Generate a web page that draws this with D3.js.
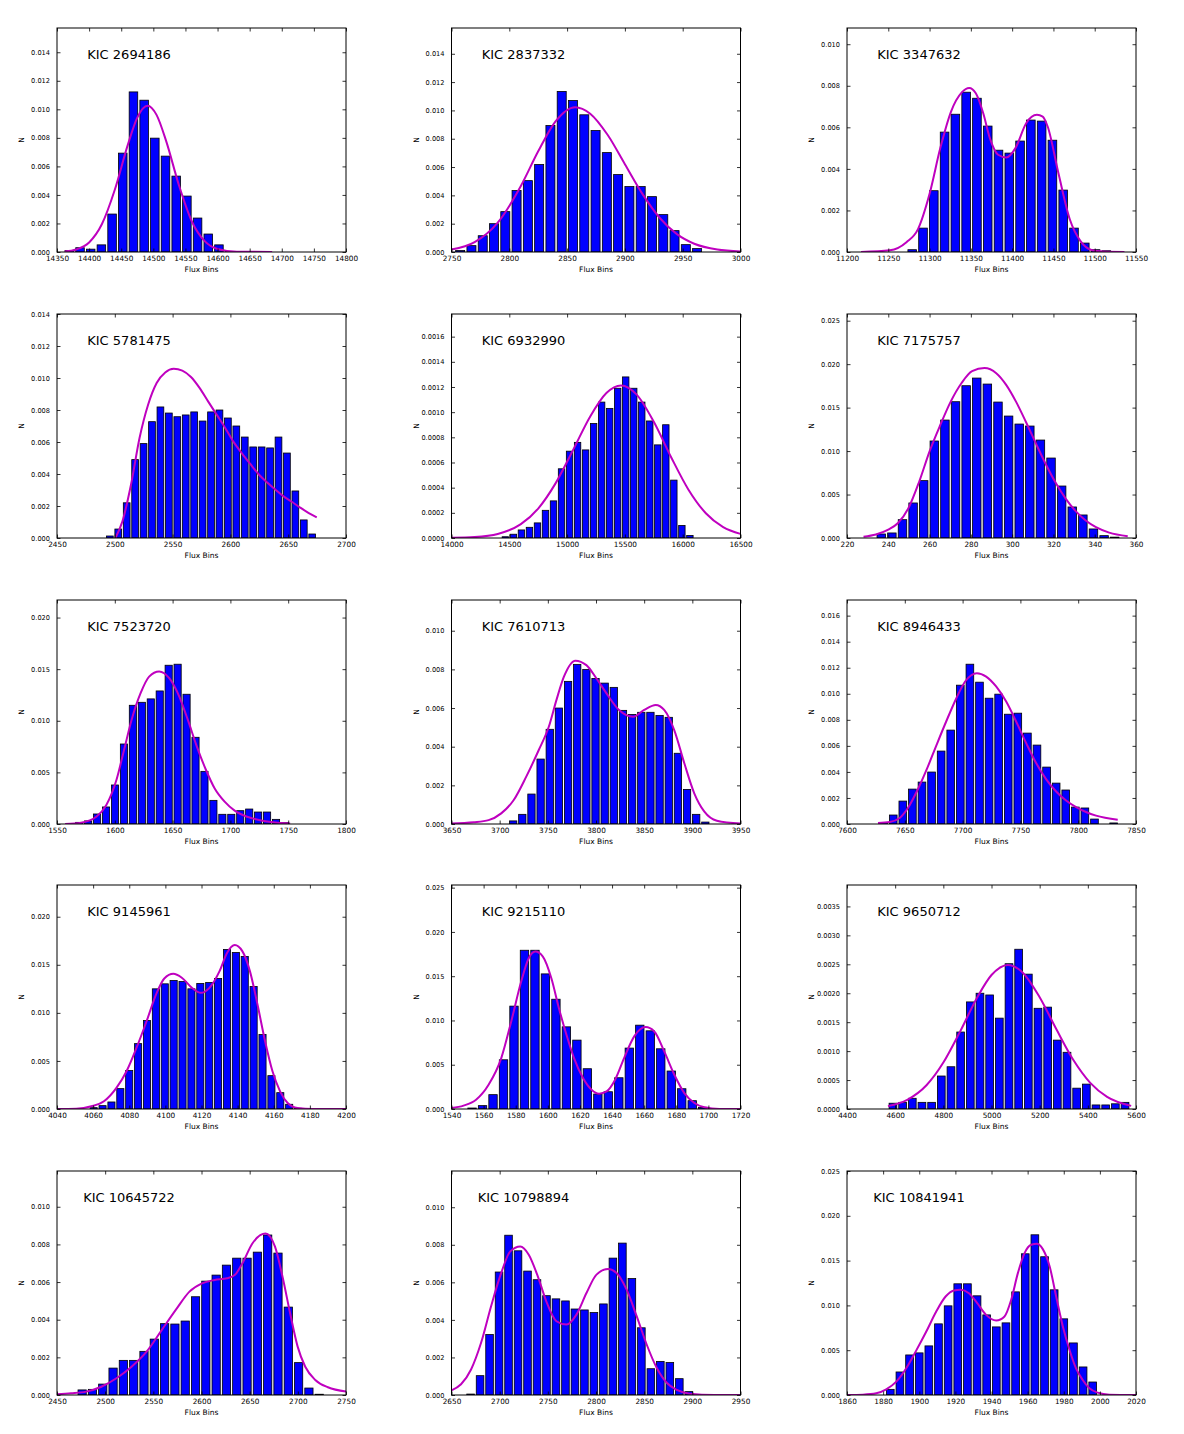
<!DOCTYPE html>
<html>
<head>
<meta charset="utf-8">
<script src="https://cdn.jsdelivr.net/npm/d3@7"></script>
<style>
  body { margin: 0; background: #fff; }
  text { font-family: "DejaVu Sans", sans-serif; }
</style>
</head>
<body>
<svg></svg>
<script>
const width = 1184
const height = 1434
const panelW = 289
const panelH = 224
const colX = [57, 451.5, 847]
const rowY = [28, 314, 600, 885, 1171]

const names = ["KIC 2694186", "KIC 2837332", "KIC 3347632", "KIC 5781475", "KIC 6932990",
  "KIC 7175757", "KIC 7523720", "KIC 7610713", "KIC 8946433", "KIC 9145961",
  "KIC 9215110", "KIC 9650712", "KIC 10645722", "KIC 10798894", "KIC 10841941"]

const xDomains = [[14350, 14800], [2750, 3000], [11200, 11550], [2450, 2700], [14000, 16500],
  [220, 360], [1550, 1800], [3650, 3950], [7600, 7850], [4040, 4200],
  [1540, 1720], [4400, 5600], [2450, 2750], [2650, 2950], [1860, 2020]]

const yTops = [0.0157, 0.01582, 0.01078, 0.014, 0.00178, 0.02577, 0.0217, 0.01159, 0.0172, 0.0233,
  0.0253, 0.00387, 0.0119, 0.01193, 0.025]

const xTicks = [
  [14350, 14400, 14450, 14500, 14550, 14600, 14650, 14700, 14750, 14800],
  [2750, 2800, 2850, 2900, 2950, 3000],
  [11200, 11250, 11300, 11350, 11400, 11450, 11500, 11550],
  [2450, 2500, 2550, 2600, 2650, 2700],
  [14000, 14500, 15000, 15500, 16000, 16500],
  [220, 240, 260, 280, 300, 320, 340, 360],
  [1550, 1600, 1650, 1700, 1750, 1800],
  [3650, 3700, 3750, 3800, 3850, 3900, 3950],
  [7600, 7650, 7700, 7750, 7800, 7850],
  [4040, 4060, 4080, 4100, 4120, 4140, 4160, 4180, 4200],
  [1540, 1560, 1580, 1600, 1620, 1640, 1660, 1680, 1700, 1720],
  [4400, 4600, 4800, 5000, 5200, 5400, 5600],
  [2450, 2500, 2550, 2600, 2650, 2700, 2750],
  [2650, 2700, 2750, 2800, 2850, 2900, 2950],
  [1860, 1880, 1900, 1920, 1940, 1960, 1980, 2000, 2020]
]

const yTicks = [
  [0, 0.002, 0.004, 0.006, 0.008, 0.010, 0.012, 0.014],
  [0, 0.002, 0.004, 0.006, 0.008, 0.010, 0.012, 0.014],
  [0, 0.002, 0.004, 0.006, 0.008, 0.010],
  [0, 0.002, 0.004, 0.006, 0.008, 0.010, 0.012, 0.014],
  [0, 0.0002, 0.0004, 0.0006, 0.0008, 0.0010, 0.0012, 0.0014, 0.0016],
  [0, 0.005, 0.010, 0.015, 0.020, 0.025],
  [0, 0.005, 0.010, 0.015, 0.020],
  [0, 0.002, 0.004, 0.006, 0.008, 0.010],
  [0, 0.002, 0.004, 0.006, 0.008, 0.010, 0.012, 0.014, 0.016],
  [0, 0.005, 0.010, 0.015, 0.020],
  [0, 0.005, 0.010, 0.015, 0.020, 0.025],
  [0, 0.0005, 0.0010, 0.0015, 0.0020, 0.0025, 0.0030, 0.0035],
  [0, 0.002, 0.004, 0.006, 0.008, 0.010],
  [0, 0.002, 0.004, 0.006, 0.008, 0.010],
  [0, 0.005, 0.010, 0.015, 0.020, 0.025]
]
const yDecimals = [3, 3, 3, 3, 4, 3, 3, 3, 3, 3, 3, 4, 3, 3, 3]

// centre of the first bin and bin width, per panel
const binStarts = [14369.2, 2757.5, 11279, 2495.7, 14466, 236.6, 1569.2, 3714, 7631.7, 4060.3,
  1552.8, 4590.8, 2476.1, 2669.8, 1883.96]
const binWidths = [16.64, 9.76, 13.06, 7.295, 69.4, 5.14, 7.74, 9.5, 8.29, 4.92,
  6.53, 40.15, 10.7, 9.85, 5.337]

const binHeights = [
  [0.0001, 0.0003, 0.0002, 0.0005, 0.00266, 0.00693, 0.01122, 0.01064, 0.00798, 0.00672, 0.00532, 0.00392, 0.00238, 0.00126, 0.0005, 0.00003],
  [0.0001, 0.00045, 0.00115, 0.0020, 0.00285, 0.00434, 0.00504, 0.00618, 0.00893, 0.01134, 0.0107, 0.00969, 0.00858, 0.00702, 0.00547, 0.00462, 0.00462, 0.00391, 0.00264, 0.00151, 0.00052, 0.00024],
  [0.00011, 0.00115, 0.00295, 0.00577, 0.00663, 0.00769, 0.0074, 0.00606, 0.0049, 0.00476, 0.00534, 0.00635, 0.0063, 0.00538, 0.00298, 0.00115, 0.00043, 0.00011, 0.00006],
  [0.000125, 0.00056, 0.0022, 0.0049, 0.0059, 0.00727, 0.00819, 0.00781, 0.00758, 0.00769, 0.00788, 0.00731, 0.00788, 0.008, 0.0075, 0.007, 0.00631, 0.00569, 0.00569, 0.00563, 0.00631, 0.00531, 0.00294, 0.00113, 0.00025],
  [0.00001, 0.00003, 0.000064, 0.000085, 0.00012, 0.00022, 0.000295, 0.00055, 0.00069, 0.00076, 0.0007, 0.00091, 0.00108, 0.00103, 0.00119, 0.00128, 0.00119, 0.00108, 0.00093, 0.00074, 0.0009, 0.00046, 0.0001, 0.00002],
  [0.00046, 0.00058, 0.00211, 0.00403, 0.0066, 0.01116, 0.01357, 0.01568, 0.01752, 0.0184, 0.01771, 0.01564, 0.01403, 0.01311, 0.01288, 0.01127, 0.0092, 0.00598, 0.00357, 0.00265, 0.00104, 0.00027, 0.0001],
  [0.00016, 0.0003, 0.00097, 0.00165, 0.00378, 0.00775, 0.0115, 0.01179, 0.01212, 0.01289, 0.01538, 0.01548, 0.01257, 0.0084, 0.0051, 0.00229, 0.00094, 0.00094, 0.00129, 0.00145, 0.00116, 0.00116, 0.00045, 0.00013],
  [0.00016, 0.0005, 0.00155, 0.00336, 0.0049, 0.006, 0.00738, 0.00826, 0.008, 0.00753, 0.00729, 0.00707, 0.00588, 0.00567, 0.00578, 0.00578, 0.00562, 0.00552, 0.00366, 0.00179, 0.0005, 0.0001],
  [0.0001, 0.00069, 0.00176, 0.00268, 0.00322, 0.00399, 0.0056, 0.00721, 0.01066, 0.01227, 0.01089, 0.00966, 0.00997, 0.00843, 0.00851, 0.00698, 0.00606, 0.00437, 0.00314, 0.00261, 0.0013, 0.00123, 0.00038, 0, 0.00008],
  [0.00014, 0.00035, 0.00073, 0.00212, 0.004, 0.0068, 0.0092, 0.0125, 0.01302, 0.01337, 0.01326, 0.0125, 0.01306, 0.01316, 0.01358, 0.0166, 0.01628, 0.01587, 0.01274, 0.00774, 0.00347, 0.0017, 0.00049, 0.00007],
  [0.00011, 0.00038, 0.00162, 0.00556, 0.01162, 0.01793, 0.01793, 0.01526, 0.0124, 0.00928, 0.00778, 0.00455, 0.00169, 0.00195, 0.00353, 0.00688, 0.00947, 0.00883, 0.0068, 0.00429, 0.00229, 0.00094, 0.00019],
  [0.0001, 0.000115, 0.000185, 0.000115, 0.000115, 0.00057, 0.00073, 0.00133, 0.00185, 0.002, 0.00197, 0.00157, 0.00251, 0.00276, 0.00233, 0.00174, 0.00176, 0.00119, 0.00098, 0.00036, 0.00043, 0.00007, 0.00007, 0.00009, 0.000115],
  [0.00027, 0.0003, 0.00058, 0.00143, 0.00184, 0.00184, 0.00232, 0.00297, 0.00379, 0.00377, 0.00393, 0.00522, 0.00605, 0.00637, 0.0069, 0.00727, 0.00727, 0.00759, 0.0085, 0.00754, 0.00467, 0.00172, 0.00037, 0.00004],
  [0.00005, 0.00103, 0.00322, 0.00655, 0.00851, 0.00768, 0.0066, 0.00614, 0.00529, 0.00512, 0.00501, 0.00458, 0.00453, 0.00439, 0.00485, 0.00729, 0.00809, 0.0062, 0.00358, 0.0014, 0.00179, 0.00173, 0.00087, 0.00018],
  [0.00063, 0.00257, 0.00447, 0.0047, 0.00548, 0.00794, 0.00995, 0.01241, 0.01241, 0.01107, 0.00894, 0.0076, 0.00805, 0.01151, 0.01576, 0.01788, 0.01543, 0.01174, 0.0085, 0.00581, 0.00313, 0.00145]
]

// fitted density curve
const fitX = [
  [14362, 14380, 14400, 14420, 14440, 14460, 14475, 14491, 14505, 14520, 14540, 14560, 14580, 14600, 14630, 14685],
  [2750, 2770, 2790, 2810, 2825, 2840, 2857, 2870, 2885, 2900, 2915, 2930, 2945, 2960, 2980, 3000],
  [11217, 11252, 11272, 11286, 11300, 11313, 11326, 11339, 11348, 11356, 11365, 11373, 11383, 11393, 11404, 11417, 11430, 11437, 11443, 11456, 11470, 11483, 11496, 11510, 11536],
  [2500.5, 2506.6, 2514, 2521.4, 2528.8, 2536.2, 2543.6, 2551, 2558.4, 2565.9, 2573.3, 2580.7, 2588.1, 2595.5, 2602.4, 2609.8, 2617.2, 2624.2, 2631.6, 2639, 2646, 2653.4, 2660.8, 2667.8, 2674.7],
  [14000, 14200, 14400, 14600, 14750, 14900, 15050, 15200, 15340, 15466, 15600, 15750, 15900, 16050, 16200, 16350, 16500],
  [228, 234, 240, 244.7, 249.8, 255, 260, 265.2, 270.3, 275.5, 280.6, 286.6, 292.3, 297.1, 302, 306.8, 311.6, 316.5, 321.3, 326.1, 331, 335.8, 340.6, 347, 356],
  [1557, 1571, 1584, 1592.7, 1601.4, 1608, 1614.5, 1622.3, 1629.7, 1638.4, 1647.1, 1655.8, 1663.2, 1671, 1678.9, 1686.3, 1695, 1703.7, 1714.6, 1727.7, 1740.8, 1751.7],
  [3650, 3673, 3688.5, 3701.6, 3714.6, 3727.6, 3740.6, 3751, 3758.9, 3766.7, 3778.6, 3790, 3800.5, 3810.9, 3823.9, 3838.5, 3850, 3862, 3870.8, 3881.2, 3891.7, 3902, 3912.5, 3925.5, 3950],
  [7626.8, 7636.9, 7645.5, 7652.7, 7661.1, 7669.4, 7677.5, 7685.8, 7694.2, 7702.2, 7712.3, 7720.4, 7729, 7737.7, 7746.3, 7755, 7763.6, 7772.2, 7780.9, 7789.5, 7798.2, 7806.8, 7815.4, 7834.2],
  [4040, 4050.6, 4059, 4066, 4072.9, 4078.5, 4084, 4089.6, 4095.2, 4099.4, 4104.4, 4109.1, 4114.7, 4119.7, 4124.4, 4130, 4134.2, 4138.4, 4142.6, 4146.8, 4151, 4155.2, 4159.3, 4163.5, 4167.7, 4173.2, 4181.6, 4200],
  [1540, 1547.5, 1555.3, 1563.1, 1571, 1577.2, 1583.4, 1588.1, 1592.2, 1596.9, 1602.2, 1606.9, 1611.6, 1616.3, 1621.9, 1627.2, 1631.9, 1636.6, 1641.9, 1647.5, 1653.8, 1660.9, 1666.3, 1672.5, 1678.8, 1685, 1691.3, 1697.5, 1706.9, 1720],
  [4570, 4650, 4730, 4800, 4870, 4940, 5000, 5068, 5130, 5200, 5270, 5340, 5410, 5480, 5580],
  [2450, 2464.6, 2480.3, 2496, 2511.7, 2527.4, 2543, 2558.7, 2574.4, 2587.5, 2600.5, 2613.6, 2626.7, 2634.5, 2642.4, 2652.8, 2666.4, 2676.3, 2684.1, 2692, 2699.8, 2707.7, 2718.1, 2731.2, 2750],
  [2650, 2659.9, 2670.3, 2680.7, 2691.1, 2701.6, 2711, 2721.4, 2730.2, 2739.6, 2748.4, 2758.9, 2769.3, 2779.7, 2790.1, 2800.5, 2812.5, 2821.4, 2831.8, 2842.2, 2852.6, 2863, 2873.4, 2883.9, 2896.9, 2922.9, 2950],
  [1860, 1868.8, 1876.2, 1881.7, 1887.3, 1892.8, 1898, 1903.9, 1909.4, 1914.6, 1919.2, 1922.9, 1927.5, 1932.1, 1937, 1942.6, 1947.2, 1950.9, 1954.6, 1958.3, 1962, 1965.1, 1968.4, 1972.2, 1975.8, 1979.5, 1983.2, 1986.8, 1990.5, 1994.2, 1998.8, 2005.3, 2020]
]
const fitY = [
  [0.00004, 0.00018, 0.00067, 0.00196, 0.00436, 0.00747, 0.00942, 0.01025, 0.00961, 0.00777, 0.00466, 0.00214, 0.00076, 0.00021, 0.00002, 0],
  [0.00017, 0.00069, 0.00207, 0.00466, 0.00711, 0.00923, 0.01023, 0.00977, 0.00828, 0.0062, 0.00412, 0.00242, 0.00126, 0.00058, 0.00017, 0.00004],
  [0, 0.00008, 0.00047, 0.0011, 0.0028, 0.005, 0.00676, 0.00768, 0.00789, 0.00764, 0.00668, 0.00548, 0.00468, 0.00455, 0.005, 0.0062, 0.0066, 0.00652, 0.00604, 0.0038, 0.00155, 0.00051, 0.0001, 0.00002, 0],
  [0, 0.00104, 0.00333, 0.00625, 0.00833, 0.00969, 0.01035, 0.01058, 0.01046, 0.01006, 0.00938, 0.00854, 0.00771, 0.00688, 0.00604, 0.00531, 0.00463, 0.004, 0.00348, 0.00302, 0.0026, 0.00225, 0.00188, 0.00156, 0.00129],
  [0.000001, 0.000007, 0.000032, 0.00011, 0.000234, 0.000434, 0.000696, 0.000966, 0.001152, 0.001212, 0.001141, 0.000923, 0.000642, 0.000384, 0.000197, 0.000087, 0.000033],
  [0.00015, 0.0004, 0.00096, 0.00173, 0.00345, 0.0065, 0.00997, 0.013, 0.01572, 0.01783, 0.0192, 0.01955, 0.01896, 0.01762, 0.01563, 0.01329, 0.01083, 0.0084, 0.00626, 0.00447, 0.00303, 0.00198, 0.00124, 0.00062, 0.00021],
  [0, 0.00013, 0.0007, 0.00184, 0.00426, 0.00717, 0.01008, 0.01267, 0.01428, 0.01477, 0.01412, 0.01234, 0.01008, 0.0075, 0.00523, 0.00346, 0.00216, 0.00129, 0.0007, 0.00032, 0.00013, 0.00006],
  [0.00003, 0.00009, 0.0002, 0.00055, 0.00124, 0.00245, 0.00383, 0.00503, 0.00641, 0.00762, 0.00845, 0.00822, 0.00753, 0.00676, 0.0059, 0.00555, 0.0059, 0.00616, 0.0059, 0.00486, 0.00314, 0.00159, 0.00064, 0.00017, 0.00002],
  [0.00008, 0.00015, 0.00046, 0.00123, 0.00263, 0.00429, 0.00608, 0.00787, 0.00958, 0.01094, 0.01158, 0.01132, 0.01056, 0.0094, 0.00787, 0.00621, 0.00468, 0.00345, 0.0025, 0.00181, 0.0013, 0.00092, 0.00064, 0.00033],
  [0, 0.00003, 0.00028, 0.0008, 0.00219, 0.00392, 0.00635, 0.00913, 0.01208, 0.01358, 0.01406, 0.01365, 0.0126, 0.01208, 0.0126, 0.01434, 0.01625, 0.01705, 0.01642, 0.01434, 0.01087, 0.00705, 0.00392, 0.00184, 0.00063, 0.0001, 0, 0],
  [0.00011, 0.00038, 0.00105, 0.00274, 0.00575, 0.00989, 0.0144, 0.01703, 0.01778, 0.01722, 0.01477, 0.01139, 0.00838, 0.00575, 0.0035, 0.00218, 0.00173, 0.00199, 0.00331, 0.00575, 0.0082, 0.00925, 0.00876, 0.0065, 0.00387, 0.0018, 0.00068, 0.00019, 0, 0],
  [0.00005, 0.000158, 0.00041, 0.000802, 0.001341, 0.001923, 0.002315, 0.00249, 0.002354, 0.00193, 0.001372, 0.000845, 0.000451, 0.000209, 0.000054],
  [0.00004, 0.00009, 0.00018, 0.00044, 0.00089, 0.0015, 0.0023, 0.00345, 0.0046, 0.00549, 0.00593, 0.00611, 0.0062, 0.00637, 0.00699, 0.00805, 0.00858, 0.00788, 0.00628, 0.00434, 0.00257, 0.0015, 0.0008, 0.00041, 0.00018],
  [0.00025, 0.00057, 0.00136, 0.00278, 0.00473, 0.0065, 0.00765, 0.00791, 0.00747, 0.00632, 0.00499, 0.00393, 0.00375, 0.00428, 0.00543, 0.00641, 0.00671, 0.0065, 0.00561, 0.0042, 0.00269, 0.00145, 0.00065, 0.00027, 0.00007, 0, 0],
  [0, 0.00004, 0.00019, 0.00063, 0.00149, 0.00298, 0.00484, 0.00708, 0.00932, 0.01099, 0.01166, 0.01174, 0.01136, 0.01025, 0.00894, 0.00831, 0.00876, 0.01062, 0.0136, 0.01584, 0.01677, 0.01688, 0.01628, 0.01434, 0.01099, 0.00764, 0.00503, 0.00298, 0.00168, 0.00075, 0.00026, 0.00004, 0]
]

const svg = d3.select("svg")
    .attr("width", width)
    .attr("height", height)

names.forEach((name, i) => {
    const col = i % 3
    const row = Math.floor(i / 3)
    const g = svg.append("g").attr("transform", `translate(${colX[col]}, ${rowY[row]})`)

    const x = d3.scaleLinear().domain(xDomains[i]).range([0, panelW])
    const y = d3.scaleLinear().domain([0, yTops[i]]).range([panelH, 0])

    g.append("clipPath").attr("id", `clip${i}`)
        .append("rect").attr("width", panelW).attr("height", panelH)

    // histogram bars
    const bw = binWidths[i]
    const bars = binHeights[i].map((h, j) => ({c: binStarts[i] + j * bw, h: h}))
    g.append("g").attr("clip-path", `url(#clip${i})`)
        .selectAll("rect").data(bars).join("rect")
        .attr("x", d => x(d.c - 0.4 * bw))
        .attr("width", d => x(d.c + 0.4 * bw) - x(d.c - 0.4 * bw))
        .attr("y", d => y(d.h))
        .attr("height", d => y(0) - y(d.h))
        .attr("fill", "#0000ff")
        .attr("stroke", "#000")
        .attr("stroke-width", 0.8)

    // fit curve
    const pts = fitX[i].map((v, j) => [v, fitY[i][j]])
    const line = d3.line().x(d => x(d[0])).y(d => y(d[1])).curve(d3.curveMonotoneX)
    g.append("path").attr("clip-path", `url(#clip${i})`)
        .datum(pts)
        .attr("d", line)
        .attr("fill", "none")
        .attr("stroke", "#bf00bf")
        .attr("stroke-width", 2)

    // axes, ticks pointing inward on all four sides
    const fmt = d3.format(`.${yDecimals[i]}f`)
    const xb = g.append("g").attr("transform", `translate(0, ${panelH})`)
        .call(d3.axisBottom(x).tickValues(xTicks[i]).tickSize(-3.5).tickPadding(4).tickFormat(d3.format("d")))
    xb.selectAll("text").attr("font-size", "7.3px")
    g.append("g")
        .call(d3.axisTop(x).tickValues(xTicks[i]).tickSize(-3.5).tickFormat(""))
    const yl = g.append("g")
        .call(d3.axisLeft(y).tickValues(yTicks[i]).tickSize(-3.5).tickPadding(7).tickFormat(fmt))
    yl.selectAll("text").attr("font-size", "6.6px")
    g.append("g").attr("transform", `translate(${panelW}, 0)`)
        .call(d3.axisRight(y).tickValues(yTicks[i]).tickSize(-3.5).tickFormat(""))
    g.selectAll(".domain").remove()
    g.selectAll(".tick line").attr("stroke", "#000").attr("stroke-width", 0.8)
    g.selectAll(".tick text").attr("fill", "#000").style("font-family", "DejaVu Sans")

    g.append("rect")
        .attr("width", panelW).attr("height", panelH)
        .attr("fill", "none").attr("stroke", "#000").attr("stroke-width", 1)

    g.append("text")
        .attr("x", 72).attr("y", 31)
        .attr("text-anchor", "middle")
        .attr("font-size", "13px")
        .text(name)

    g.append("text")
        .attr("x", panelW / 2).attr("y", panelH + 20)
        .attr("text-anchor", "middle")
        .attr("font-size", "7.5px")
        .text("Flux Bins")

    g.append("text")
        .attr("transform", `translate(-33, ${panelH / 2}) rotate(-90)`)
        .attr("text-anchor", "middle")
        .attr("font-size", "7.5px")
        .text("N")
})
</script>
</body>
</html>
